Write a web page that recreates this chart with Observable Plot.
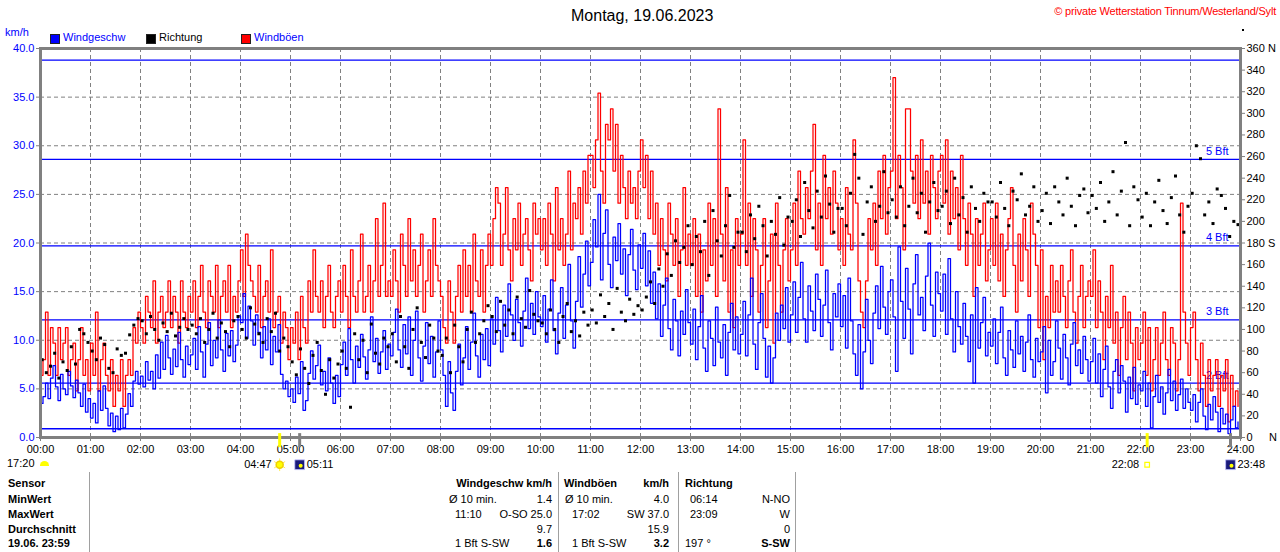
<!DOCTYPE html>
<html><head><meta charset="utf-8">
<script src="https://cdn.jsdelivr.net/npm/d3@7"></script>
<script src="https://cdn.jsdelivr.net/npm/@observablehq/plot@0.6"></script>
<style>
body{margin:0;background:#fff;font-family:"Liberation Sans",Arial,sans-serif;}
#wrap{position:relative;width:1280px;height:552px;overflow:hidden;background:#fff;}
#chart{position:absolute;left:0;top:0;}
.t{position:absolute;font-size:11px;line-height:13px;white-space:nowrap;color:#000;}
.b{font-weight:bold;}
.sq{position:absolute;width:8px;height:8px;border:1px solid #222;}
.sep{position:absolute;width:1px;background:#a0a0a0;top:472px;height:80px;}
</style></head>
<body><div id="wrap"><div id="chart"></div><div id="overlay"></div></div>
<script>
// ---- data (3-minute samples, 20 per hour) ----
const speed = [
3.5,4.2,5.6,4.0,6.1,7.4,5.2,3.8,6.5,5.0,4.4,6.8,5.3,4.1,5.9,4.6,3.2,5.5,2.6,4.0,
2.0,3.5,1.5,4.8,2.8,5.3,3.0,1.2,2.5,0.6,2.2,0.8,3.0,1.0,2.4,4.5,3.2,5.8,6.8,5.5,
6.3,5.2,7.8,5.9,6.8,5.0,8.5,6.1,9.8,7.0,10.5,8.2,6.5,9.1,7.3,10.8,8.0,6.2,9.4,7.5,
8.5,10.2,7.0,11.4,8.8,6.2,9.6,11.8,7.4,10.0,8.2,12.1,9.0,6.8,10.7,8.4,11.0,7.8,9.5,12.5,
11.8,14.8,10.2,13.5,12.0,9.5,12.6,10.8,8.2,11.4,9.0,12.2,7.5,10.4,8.8,11.6,6.5,5.0,5.8,4.2,
5.0,3.6,6.2,4.5,7.8,2.8,3.8,6.6,8.9,6.0,7.4,9.5,5.4,6.8,4.8,8.2,5.6,3.5,6.4,4.2,
7.5,9.8,6.4,11.2,8.0,5.6,9.4,7.2,10.6,8.3,6.0,9.0,12.4,7.8,10.2,6.6,8.8,11.0,7.0,9.6,
8.4,10.8,13.2,9.0,7.2,11.6,8.6,12.4,6.4,10.0,13.0,8.2,5.8,9.4,11.8,7.6,10.4,6.2,8.8,12.0,
9.0,6.4,3.2,7.8,4.6,2.8,6.8,9.6,5.4,8.2,11.4,7.0,9.8,12.8,8.4,6.2,10.6,8.0,11.2,7.4,
12.2,9.6,14.4,11.0,8.8,13.6,10.4,15.8,12.6,10.0,14.2,11.8,9.4,13.0,16.4,11.2,13.8,10.6,15.0,12.4,
11.4,14.6,9.8,13.2,16.2,11.0,8.6,12.8,15.4,10.2,13.6,17.8,12.0,9.2,14.0,18.6,13.4,16.8,20.2,15.6,
18.0,22.4,19.6,25.0,16.2,21.0,23.4,17.8,15.4,20.6,18.2,22.0,16.8,19.4,14.6,18.8,21.4,17.2,15.2,19.8,
17.4,21.0,15.6,19.2,13.8,17.0,12.2,15.8,10.4,13.6,16.4,11.2,9.0,14.2,12.0,8.4,13.0,10.6,15.2,11.8,
9.6,13.2,8.0,11.4,14.6,9.2,6.8,12.0,10.2,7.4,13.4,9.8,8.2,11.6,6.4,10.8,13.8,9.0,12.4,8.6,
10.6,14.0,8.4,12.6,16.4,9.6,7.0,11.8,14.8,10.2,6.2,9.4,5.6,8.2,12.8,10.0,13.6,11.2,15.4,9.8,
12.6,16.0,10.8,14.4,18.0,12.2,9.8,15.6,13.0,11.0,16.8,14.2,10.4,13.6,17.2,11.8,9.0,14.8,12.4,15.8,
11.4,14.6,9.2,16.4,12.0,8.6,6.4,11.6,5.0,8.8,14.2,10.0,7.6,12.8,15.6,11.2,17.6,13.4,10.6,15.0,
16.2,12.4,6.8,19.6,14.0,10.2,17.4,13.2,8.6,15.8,18.8,12.6,14.4,11.0,16.6,20.0,13.6,10.4,17.0,14.8,
13.0,16.8,10.6,18.4,12.2,8.8,15.0,11.4,9.6,13.8,10.4,7.8,12.6,5.6,15.4,9.2,11.8,14.4,8.4,10.8,
9.4,12.2,7.6,10.8,13.4,8.2,6.4,11.0,9.0,7.2,12.0,8.6,10.4,6.8,9.8,12.6,8.0,6.2,10.2,7.8,
8.8,11.4,4.6,10.0,6.4,7.8,12.0,9.2,6.0,10.6,8.2,5.4,9.6,11.8,7.4,9.0,6.6,10.4,8.0,5.8,
7.8,10.2,5.6,8.6,4.2,7.0,9.4,5.2,3.0,6.8,8.0,4.6,7.4,5.8,2.6,6.2,4.0,7.2,3.4,5.4,
4.8,6.8,3.2,5.6,1.0,4.2,6.4,3.6,5.2,2.4,4.6,7.0,3.8,5.8,2.8,4.4,6.0,3.0,5.0,3.6,
2.8,4.4,1.6,3.6,5.0,2.2,0.8,3.4,1.8,4.2,2.6,0.6,3.0,1.4,2.4,0.4,1.8,3.2,1.0,1.6
];
const gust = [
6.4,8.0,12.9,6.4,11.3,9.7,6.4,11.3,8.0,9.7,11.3,6.4,8.0,9.7,4.8,8.0,11.3,6.4,8.0,4.8,
9.7,6.4,12.9,4.8,8.0,9.7,6.4,4.8,8.0,3.2,6.4,4.8,8.0,3.2,6.4,8.0,6.4,11.3,9.7,12.9,
11.3,9.7,14.5,12.9,11.3,16.1,9.7,12.9,14.5,11.3,12.9,16.1,11.3,14.5,12.9,9.7,16.1,12.9,11.3,14.5,
12.9,16.1,11.3,14.5,17.7,12.9,11.3,16.1,14.5,12.9,17.7,11.3,14.5,16.1,12.9,17.7,11.3,14.5,12.9,16.1,
19.3,14.5,20.9,17.7,16.1,14.5,12.9,17.7,11.3,14.5,16.1,12.9,19.3,11.3,12.9,14.5,9.7,12.9,11.3,8.0,
11.3,9.7,12.9,8.0,14.5,11.3,9.7,16.1,12.9,19.3,14.5,12.9,16.1,11.3,14.5,17.7,12.9,11.3,14.5,16.1,
12.9,17.7,14.5,11.3,19.3,14.5,12.9,16.1,20.9,12.9,14.5,17.7,12.9,16.1,22.5,14.5,17.7,24.1,14.5,16.1,
14.5,19.3,16.1,12.9,20.9,17.7,14.5,22.5,16.1,19.3,14.5,17.7,20.9,12.9,16.1,19.3,14.5,22.5,17.7,16.1,
14.5,11.3,9.7,16.1,12.9,9.7,14.5,17.7,12.9,19.3,14.5,17.7,12.9,20.9,16.1,14.5,19.3,12.9,17.7,20.9,
17.7,22.5,25.7,24.1,17.7,20.9,25.7,19.3,16.1,22.5,19.3,24.1,17.7,20.9,22.5,19.3,16.1,24.1,20.9,22.5,
19.3,22.5,17.7,24.1,20.9,16.1,25.7,19.3,22.5,17.7,20.9,27.4,19.3,24.1,22.5,25.7,20.9,27.4,24.1,29.0,
29.0,25.7,30.6,35.4,27.4,24.1,32.2,30.6,33.8,27.4,32.2,24.1,29.0,25.7,22.5,27.4,24.1,25.7,22.5,27.4,
30.6,25.7,29.0,22.5,27.4,20.9,24.1,17.7,22.5,19.3,16.1,24.1,20.9,17.7,22.5,14.5,19.3,25.7,17.7,20.9,
17.7,22.5,14.5,20.9,12.9,19.3,16.1,24.1,17.7,22.5,14.5,33.8,20.9,16.1,25.7,12.9,19.3,11.3,22.5,17.7,
20.9,30.6,17.7,24.1,14.5,22.5,19.3,12.9,17.7,22.5,11.3,16.1,20.9,9.7,24.1,17.7,12.9,19.3,22.5,16.1,
19.3,24.1,17.7,27.4,22.5,20.9,25.7,22.5,27.4,32.2,19.3,24.1,17.7,29.0,22.5,25.7,20.9,27.4,24.1,19.3,
22.5,17.7,25.7,20.9,19.3,30.6,24.1,16.1,12.9,11.3,16.1,22.5,19.3,24.1,17.7,27.4,22.5,29.0,20.9,25.7,
27.4,37.0,22.5,29.0,25.7,19.3,33.8,33.8,27.4,24.1,29.0,22.5,30.6,24.1,27.4,20.9,29.0,25.7,22.5,27.4,
29.0,24.1,30.6,20.9,27.4,22.5,25.7,19.3,29.0,22.5,17.7,24.1,20.9,14.5,22.5,17.7,20.9,24.1,16.1,19.3,
22.5,17.7,24.1,16.1,20.9,14.5,19.3,22.5,25.7,17.7,12.9,20.9,16.1,22.5,19.3,14.5,24.1,20.9,17.7,11.3,
19.3,8.0,14.5,11.3,17.7,12.9,16.1,12.9,17.7,14.5,11.3,16.1,19.3,12.9,9.7,14.5,17.7,11.3,14.5,16.1,
14.5,19.3,11.3,16.1,12.9,8.0,14.5,11.3,17.7,9.7,12.9,6.4,11.3,14.5,8.0,12.9,9.7,4.8,11.3,8.0,
9.7,12.9,6.4,11.3,4.8,8.0,11.3,6.4,9.7,12.9,8.0,6.4,11.3,9.7,4.8,8.0,24.1,12.9,9.7,6.4,
11.3,12.9,8.0,4.8,9.7,6.4,3.2,8.0,4.8,6.4,8.0,3.2,6.4,4.8,8.0,1.6,6.4,3.2,4.8,3.2
];
// wind direction in degrees, 5-minute samples (12 per hour)
const direction = [
72,60,66,78,55,70,62,84,68,100,96,88,
80,72,92,86,64,60,82,76,78,95,104,110,
108,96,112,100,90,106,98,115,94,102,110,100,
104,96,110,88,100,115,92,106,98,84,108,112,
100,92,120,105,96,88,110,98,115,80,92,84,
70,58,82,64,50,76,88,62,40,72,55,68,
80,64,28,96,72,90,60,105,78,68,92,84,
96,70,112,84,64,100,120,88,74,104,92,80,
76,92,60,104,84,70,100,116,88,96,108,122,
112,98,126,104,118,96,130,110,102,136,114,108,
106,96,118,100,88,112,124,98,108,94,116,104,
118,106,132,112,124,100,138,116,108,128,114,122,
118,130,144,124,156,140,170,150,182,162,176,196,
160,186,172,200,150,210,182,168,196,224,176,190,
190,172,206,184,214,196,168,200,188,222,178,204,
200,220,186,236,210,194,228,204,242,216,190,212,
212,196,226,262,240,188,218,232,200,214,246,208,
220,204,232,196,214,240,208,226,190,218,236,210,
214,228,198,240,206,222,190,232,212,200,226,218,
218,204,236,212,196,228,220,244,206,214,232,200,
210,226,198,232,218,206,240,214,196,224,230,208,
224,212,236,200,218,246,206,228,273,196,232,220,
204,226,196,218,238,210,198,222,242,206,190,214,
226,270,258,206,218,198,230,224,212,186,200,197
];
const beaufortLimits = [0.9, 5.6, 12.1, 19.7, 28.6, 38.8];
const beaufortLabels = ["", "2 Bft", "3 Bft", "4 Bft", "5 Bft", ""];
const kmTicks = [0, 5, 10, 15, 20, 25, 30, 35, 40];
const degTicks = [0,20,40,60,80,100,120,140,160,180,200,220,240,260,280,300,320,340,360];
const degNames = {0: "0\u2003\u2002N", 180: "180 S", 360: "360 N"};
const hourLabels = ["00:00","01:00","02:00","03:00","04:00","05:00","06:00","07:00","08:00","09:00","10:00","11:00","12:00","13:00","14:00","15:00","16:00","17:00","18:00","19:00","20:00","21:00","22:00","23:00","24:00"];
const sunEvents = [{t: 287, label: "04:47", kind: "rise"}, {t: 1328, label: "22:08", kind: "set"}];
const moonEvents = [{t: 311, label: "05:11"}, {t: 1428, label: "23:48"}];

// ---- tables built from the arrays ----
const speedData = speed.map((v, i) => ({t: i * 3, v}));
const gustData = gust.map((v, i) => ({t: i * 3, v}));
const dirData = direction.map((d, i) => ({t: i * 5 + 2, k: d / 9}));
const beaufort = beaufortLimits.map((v, i) => ({v, label: beaufortLabels[i]}));
const hourTicks = hourLabels.map((_, i) => i * 60);
const F = "Liberation Sans, Arial, sans-serif";
const evY = -2.8;

const chart = Plot.plot({
  width: 1280, height: 552,
  marginLeft: 40, marginRight: 40, marginTop: 48, marginBottom: 115,
  style: {fontFamily: F, fontSize: "11px", background: "transparent", overflow: "visible"},
  x: {domain: [0, 1440]},
  y: {domain: [0, 40]},
  marks: [
    Plot.ruleY(kmTicks.slice(1, -1), {stroke: "#808080", strokeDasharray: "4,3"}),
    Plot.ruleX(hourTicks.slice(1, -1), {stroke: "#808080", strokeDasharray: "4,3"}),
    Plot.ruleY(beaufort, {y: "v", stroke: "#0000ff", strokeWidth: 1.3}),
    Plot.text(beaufort.filter(b => b.label), {y: "v", text: "label", frameAnchor: "right", dx: -12, dy: -8, textAnchor: "end", fill: "#0000ff", fontSize: 11}),
    Plot.line(gustData, {x: "t", y: "v", stroke: "#ff0000", curve: "step-after", strokeWidth: 1.25}),
    Plot.line(speedData, {x: "t", y: "v", stroke: "#0000ff", curve: "step-after", strokeWidth: 1.25}),
    Plot.dot(dirData, {x: "t", y: "k", symbol: "square", r: 1.7, fill: "#000", stroke: null}),
    Plot.frame({stroke: "#808080", strokeWidth: 3}),
    Plot.axisY({ticks: kmTicks, tickFormat: d => d.toFixed(1), fill: "#0000ff", stroke: "#808080", tickSize: 4, tickPadding: 2, label: null, fontSize: 11}),
    Plot.axisY({anchor: "right", ticks: degTicks.map(d => d / 9), tickFormat: d => { const g = Math.round(d * 9); return degNames[g] ?? String(g); }, fill: "#000", stroke: "#808080", tickSize: 4, tickPadding: 2, label: null, fontSize: 11}),
    Plot.axisX({ticks: hourTicks, tickFormat: (d, i) => hourLabels[Math.round(d / 60)], fill: "#000", stroke: "#808080", tickSize: 4, tickPadding: 4, label: null, fontSize: 11}),
    Plot.ruleX(sunEvents, {x: "t", y1: 0.4, y2: -1.05, stroke: "#ffff00", strokeWidth: 3}),
    Plot.ruleX(moonEvents, {x: "t", y1: 0.4, y2: -1.05, stroke: "#808080", strokeWidth: 3}),
    Plot.text(sunEvents, {x: "t", y: evY, text: "label", textAnchor: "end", dx: -8, fill: "#000", fontSize: 11}),
    Plot.text(moonEvents, {x: "t", y: evY, text: "label", textAnchor: "start", dx: 7, fill: "#000", fontSize: 11}),
    Plot.dot(sunEvents.filter(e => e.kind === "rise"), {x: "t", y: evY, symbol: "asterisk", r: 6, stroke: "#ffee55", strokeWidth: 1}),
    Plot.dot(sunEvents.filter(e => e.kind === "rise"), {x: "t", y: evY, r: 3.5, fill: "#ffff00", stroke: "#f0d000"}),
    Plot.dot(sunEvents.filter(e => e.kind === "set"), {x: "t", y: evY, symbol: "square", r: 2.6, fill: "none", stroke: "#ffff00", strokeWidth: 1.2}),
    Plot.dot(moonEvents, {x: "t", y: evY, symbol: "square", r: 5.5, fill: "#1a1a7a", stroke: "#c0c0ff", strokeWidth: 0.8}),
    Plot.dot(moonEvents, {x: "t", y: evY, dx: 1, dy: 1, r: 2, fill: "#ffff00"})
  ]
});
document.getElementById("chart").appendChild(chart);

// ---- html texts ----
const ov = document.getElementById("overlay");
function put(txt, x, y, o = {}) {
  const s = document.createElement("div");
  s.className = "t" + (o.bold ? " b" : "");
  s.textContent = txt;
  s.style.top = (y - 7) + "px";
  if (o.end) s.style.right = (1280 - x) + "px"; else s.style.left = x + "px";
  if (o.color) s.style.color = o.color;
  if (o.size) { s.style.fontSize = o.size + "px"; s.style.lineHeight = (o.size + 3) + "px"; s.style.top = (y - (o.size + 3) / 2) + "px"; }
  ov.appendChild(s);
  return s;
}
function box(x, y, w, h, cls, color) {
  const d = document.createElement("div");
  d.className = cls;
  d.style.left = x + "px"; d.style.top = y + "px";
  if (w) d.style.width = w + "px";
  if (h) d.style.height = h + "px";
  if (color) d.style.background = color;
  ov.appendChild(d);
}
put("Montag, 19.06.2023", 571, 15, {size: 16});
put("\u00a9 private Wetterstation Tinnum/Westerland/Sylt", 1276, 12, {end: true, color: "#ff0000"}).style.letterSpacing = "-0.2px";
put("km/h", 5, 33, {color: "#0000ff"});
box(50, 34, 0, 0, "sq", "#0000ff"); put("Windgeschw", 63, 38, {color: "#0000ff"});
box(146, 34, 0, 0, "sq", "#000000"); put("Richtung", 159, 38);
box(241, 34, 0, 0, "sq", "#ff0000"); put("Windb\u00f6en", 254, 38, {color: "#0000ff"});
const star = document.createElement("div");
star.style.cssText = "position:absolute;left:1242px;top:29px;width:2px;height:2px;background:#000;";
ov.appendChild(star);
put("17:20", 7, 464);
const half = document.createElement("div");
half.style.cssText = "position:absolute;left:40px;top:461px;width:9px;height:5px;background:#ffff00;border-radius:5px 5px 0 0;";
ov.appendChild(half);

// table
const rowY = [484, 500, 515, 530, 544];
const rowLabels = ["Sensor", "MinWert", "MaxWert", "Durchschnitt", "19.06. 23:59"];
rowLabels.forEach((l, i) => put(l, 8, rowY[i], {bold: true}));
[89, 558, 678, 795].forEach(x => box(x, 472, 0, 0, "sep"));
put("Windgeschw km/h", 552, rowY[0], {bold: true, end: true});
put("\u00d8 10 min.", 449, rowY[1]); put("1.4", 552, rowY[1], {end: true});
put("11:10", 455, rowY[2]); put("O-SO 25.0", 552, rowY[2], {end: true});
put("9.7", 552, rowY[3], {end: true});
put("1 Bft S-SW", 455, rowY[4]); put("1.6", 552, rowY[4], {end: true, bold: true});
put("Windb\u00f6en", 564, rowY[0], {bold: true}); put("km/h", 669, rowY[0], {bold: true, end: true});
put("\u00d8 10 min.", 565, rowY[1]); put("4.0", 669, rowY[1], {end: true});
put("17:02", 572, rowY[2]); put("SW 37.0", 669, rowY[2], {end: true});
put("15.9", 669, rowY[3], {end: true});
put("1 Bft S-SW", 572, rowY[4]); put("3.2", 669, rowY[4], {end: true, bold: true});
put("Richtung", 685, rowY[0], {bold: true});
put("06:14", 690, rowY[1]); put("N-NO", 790, rowY[1], {end: true});
put("23:09", 690, rowY[2]); put("W", 790, rowY[2], {end: true});
put("0", 790, rowY[3], {end: true});
put("197 \u00b0", 685, rowY[4]); put("S-SW", 790, rowY[4], {end: true, bold: true});
</script>
</body></html>
